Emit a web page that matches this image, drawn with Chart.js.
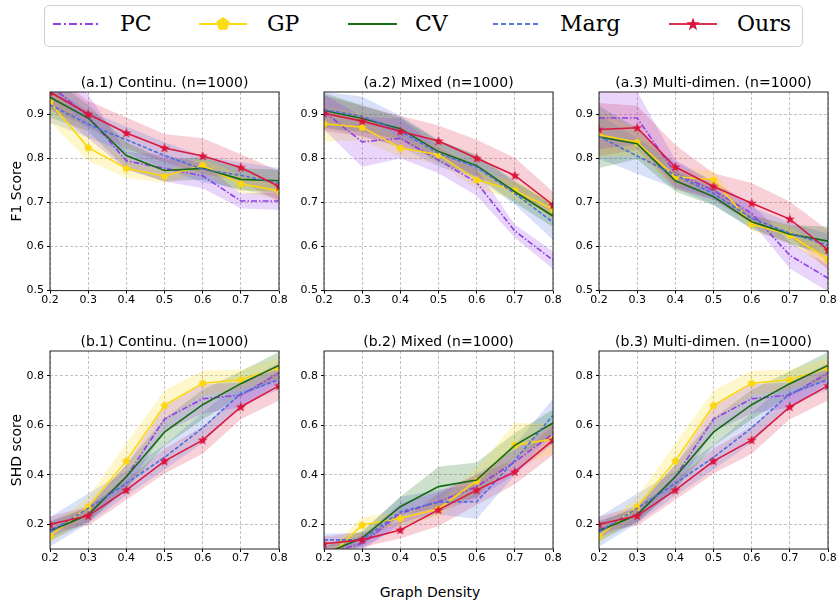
<!DOCTYPE html>
<html><head><meta charset="utf-8">
<script src="https://cdn.jsdelivr.net/npm/chart.js@4.4.0/dist/chart.umd.min.js"></script>
<style>
html,body{margin:0;padding:0;background:#fff;}
body{width:837px;height:603px;position:relative;overflow:hidden;font-family:"DejaVu Sans";}
canvas{position:absolute;}
.lg{position:absolute;font-family:"DejaVu Serif";font-size:22px;line-height:22px;color:#000;top:13px;white-space:nowrap;}
.sw{position:absolute;top:16px;}
</style></head><body>
<div style="position:absolute;left:44px;top:5px;width:757px;height:40px;border:1px solid #d0d0d0;border-radius:5px;"></div>
<svg class="sw" style="left:53px" width="48" height="16"><line x1="0" y1="8" x2="47" y2="8" stroke="#9440ea" stroke-width="2" stroke-dasharray="8,3,2,3"/></svg>
<div class="lg" style="left:120px">PC</div>
<svg class="sw" style="left:199px" width="48" height="16"><line x1="0" y1="8" x2="48" y2="8" stroke="#fcdc14" stroke-width="2"/><polygon points="24,1 30.7,5.8 28.1,13.7 19.9,13.7 17.3,5.8" fill="#fcdc14"/></svg>
<div class="lg" style="left:267px">GP</div>
<svg class="sw" style="left:348px" width="49" height="16"><line x1="0" y1="8" x2="49" y2="8" stroke="#1a6e1a" stroke-width="2"/></svg>
<div class="lg" style="left:415px">CV</div>
<svg class="sw" style="left:493px" width="48" height="16"><line x1="0" y1="8" x2="47" y2="8" stroke="#5577e0" stroke-width="2" stroke-dasharray="5,3"/></svg>
<div class="lg" style="left:560px">Marg</div>
<svg class="sw" style="left:669px" width="48" height="16"><line x1="0" y1="8" x2="48" y2="8" stroke="#e0304f" stroke-width="2"/><polygon id="lgStar" fill="#dc143c"/></svg>
<div class="lg" style="left:737px">Ours</div>
<div style="position:absolute;left:330px;width:200px;text-align:center;top:584px;font-size:14px;line-height:16px;color:#000;">Graph Density</div>

<canvas id="a1" width="293" height="237" style="left:0px;top:74px"></canvas>
<canvas id="a2" width="283" height="237" style="left:284px;top:74px"></canvas>
<canvas id="a3" width="283" height="237" style="left:559px;top:74px"></canvas>
<canvas id="b1" width="293" height="236" style="left:0px;top:333px"></canvas>
<canvas id="b2" width="283" height="236" style="left:284px;top:333px"></canvas>
<canvas id="b3" width="283" height="236" style="left:559px;top:333px"></canvas>
<script>
// ---------------- data ----------------
const density = [0.2, 0.3, 0.4, 0.5, 0.6, 0.7, 0.8];
const xTicks = [0.2, 0.3, 0.4, 0.5, 0.6, 0.7, 0.8];
const f1Ticks = [0.5, 0.6, 0.7, 0.8, 0.9];
const shdTicks = [0.2, 0.4, 0.6, 0.8];
const methods = ['PC', 'GP', 'CV', 'Marg', 'Ours'];

// (a.1) F1, continuous
const a1_PC   = [0.965, 0.895, 0.794, 0.777, 0.760, 0.703, 0.703];
const a1_GP   = [0.927, 0.824, 0.777, 0.759, 0.784, 0.742, 0.726];
const a1_CV   = [0.938, 0.891, 0.806, 0.772, 0.777, 0.752, 0.749];
const a1_Marg = [0.921, 0.877, 0.842, 0.806, 0.775, 0.761, 0.743];
const a1_Ours = [0.950, 0.900, 0.857, 0.823, 0.805, 0.779, 0.736];
const a1_PC_sd   = [0.05, 0.05, 0.02, 0.03, 0.028, 0.017, 0.02];
const a1_GP_sd   = [0.045, 0.03, 0.022, 0.015, 0.015, 0.02, 0.02];
const a1_CV_sd   = [0.045, 0.03, 0.03, 0.025, 0.025, 0.025, 0.025];
const a1_Marg_sd = [0.04, 0.03, 0.03, 0.03, 0.03, 0.03, 0.035];
const a1_Ours_sd = [0.04, 0.03, 0.035, 0.032, 0.04, 0.03, 0.035];

// (a.2) F1, mixed
const a2_PC   = [0.905, 0.837, 0.845, 0.796, 0.745, 0.635, 0.569];
const a2_GP   = [0.878, 0.870, 0.823, 0.808, 0.751, 0.727, 0.684];
const a2_CV   = [0.908, 0.890, 0.867, 0.815, 0.783, 0.724, 0.669];
const a2_Marg = [0.910, 0.895, 0.861, 0.811, 0.780, 0.720, 0.655];
const a2_Ours = [0.902, 0.884, 0.861, 0.839, 0.800, 0.761, 0.694];
const a2_PC_sd   = [0.04, 0.057, 0.045, 0.03, 0.03, 0.015, 0.02];
const a2_GP_sd   = [0.04, 0.03, 0.02, 0.02, 0.02, 0.02, 0.02];
const a2_CV_sd   = [0.04, 0.03, 0.025, 0.025, 0.025, 0.025, 0.025];
const a2_Marg_sd = [0.04, 0.045, 0.035, 0.03, 0.025, 0.025, 0.04];
const a2_Ours_sd = [0.04, 0.035, 0.035, 0.035, 0.042, 0.04, 0.03];

// (a.3) F1, multi-dimensional
const a3_PC   = [0.891, 0.891, 0.766, 0.727, 0.675, 0.580, 0.528];
const a3_GP   = [0.853, 0.836, 0.758, 0.751, 0.651, 0.626, 0.571];
const a3_CV   = [0.848, 0.833, 0.749, 0.713, 0.656, 0.628, 0.612];
const a3_Marg = [0.849, 0.805, 0.762, 0.720, 0.664, 0.630, 0.603];
const a3_Ours = [0.865, 0.869, 0.780, 0.736, 0.698, 0.662, 0.592];
const a3_PC_sd   = [0.07, 0.06, 0.03, 0.02, 0.02, 0.03, 0.03];
const a3_GP_sd   = [0.05, 0.03, 0.02, 0.02, 0.015, 0.02, 0.02];
const a3_CV_sd   = [0.07, 0.035, 0.025, 0.02, 0.015, 0.02, 0.033];
const a3_Marg_sd = [0.05, 0.04, 0.03, 0.025, 0.025, 0.025, 0.025];
const a3_Ours_sd = [0.06, 0.05, 0.05, 0.03, 0.046, 0.04, 0.045];

// (b.1) SHD, continuous
const b1_PC   = [0.177, 0.240, 0.392, 0.625, 0.707, 0.722, 0.811];
const b1_GP   = [0.153, 0.271, 0.456, 0.680, 0.770, 0.784, 0.832];
const b1_CV   = [0.173, 0.238, 0.392, 0.572, 0.683, 0.768, 0.842];
const b1_Marg = [0.169, 0.264, 0.365, 0.470, 0.589, 0.728, 0.784];
const b1_Ours = [0.200, 0.234, 0.338, 0.455, 0.540, 0.674, 0.760];
const b1_PC_sd   = [0.03, 0.03, 0.05, 0.05, 0.06, 0.05, 0.04];
const b1_GP_sd   = [0.03, 0.04, 0.07, 0.06, 0.05, 0.04, 0.04];
const b1_CV_sd   = [0.04, 0.03, 0.05, 0.055, 0.06, 0.05, 0.055];
const b1_Marg_sd = [0.06, 0.06, 0.05, 0.05, 0.06, 0.05, 0.04];
const b1_Ours_sd = [0.03, 0.04, 0.04, 0.05, 0.055, 0.05, 0.06];

// (b.2) SHD, mixed
const b2_PC   = [0.080, 0.123, 0.244, 0.291, 0.352, 0.452, 0.566];
const b2_GP   = [0.050, 0.197, 0.224, 0.262, 0.376, 0.520, 0.544];
const b2_CV   = [0.080, 0.144, 0.271, 0.352, 0.379, 0.519, 0.609];
const b2_Marg = [0.137, 0.137, 0.251, 0.289, 0.291, 0.459, 0.640];
const b2_Ours = [0.121, 0.137, 0.177, 0.258, 0.338, 0.412, 0.540];
const b2_PC_sd   = [0.03, 0.03, 0.04, 0.04, 0.05, 0.05, 0.04];
const b2_GP_sd   = [0.03, 0.03, 0.03, 0.03, 0.05, 0.09, 0.06];
const b2_CV_sd   = [0.03, 0.03, 0.04, 0.08, 0.07, 0.05, 0.055];
const b2_Marg_sd = [0.025, 0.03, 0.06, 0.05, 0.07, 0.06, 0.067];
const b2_Ours_sd = [0.03, 0.03, 0.035, 0.065, 0.06, 0.05, 0.06];

// (b.3) SHD, multi-dimensional
const b3_PC   = [0.177, 0.240, 0.392, 0.625, 0.707, 0.722, 0.811];
const b3_GP   = [0.153, 0.271, 0.456, 0.680, 0.770, 0.784, 0.832];
const b3_CV   = [0.173, 0.238, 0.392, 0.572, 0.683, 0.768, 0.842];
const b3_Marg = [0.169, 0.264, 0.365, 0.470, 0.589, 0.728, 0.784];
const b3_Ours = [0.200, 0.234, 0.338, 0.455, 0.540, 0.674, 0.760];
const b3_PC_sd   = [0.03, 0.03, 0.05, 0.05, 0.06, 0.05, 0.04];
const b3_GP_sd   = [0.03, 0.04, 0.07, 0.06, 0.05, 0.04, 0.04];
const b3_CV_sd   = [0.04, 0.03, 0.05, 0.055, 0.06, 0.05, 0.055];
const b3_Marg_sd = [0.06, 0.06, 0.05, 0.05, 0.06, 0.05, 0.04];
const b3_Ours_sd = [0.03, 0.04, 0.04, 0.05, 0.055, 0.05, 0.06];

// ---------------- styles ----------------
const lineColor = {PC:'#8f3ee8', GP:'#fcd610', CV:'#156c15', Marg:'#4a6fe0', Ours:'#dc173f'};
const bandColor = {PC:'rgba(138,43,226,0.2)', GP:'rgba(255,215,0,0.2)', CV:'rgba(0,100,0,0.2)', Marg:'rgba(65,105,225,0.2)', Ours:'rgba(220,20,60,0.2)'};
const dashes = {PC:[6,2,1.5,2], GP:[], CV:[], Marg:[4,2], Ours:[]};
const lineOrder = {PC:5, GP:4, CV:3, Marg:2, Ours:1};

function starPoints(cx, cy, ro, ri) {
  const pts = [];
  for (let i = 0; i < 10; i++) {
    const r = i % 2 === 0 ? ro : ri;
    const a = -Math.PI / 2 + i * Math.PI / 5;
    pts.push([cx + r * Math.cos(a), cy + r * Math.sin(a)]);
  }
  return pts;
}
function polyPoints(cx, cy, r, n) {
  const pts = [];
  for (let i = 0; i < n; i++) {
    const a = -Math.PI / 2 + i * 2 * Math.PI / n;
    pts.push([cx + r * Math.cos(a), cy + r * Math.sin(a)]);
  }
  return pts;
}
function markerCanvas(size, pts, color) {
  const c = document.createElement('canvas');
  c.width = size; c.height = size;
  const g = c.getContext('2d');
  g.fillStyle = color;
  g.beginPath();
  pts.forEach((p, i) => i ? g.lineTo(p[0], p[1]) : g.moveTo(p[0], p[1]));
  g.closePath(); g.fill();
  return c;
}
const starImg = markerCanvas(12, starPoints(6, 6.3, 5.2, 2.1), '#dc143c');
const pentImg = markerCanvas(10, polyPoints(5, 5.3, 4, 5), '#fcd610');
document.getElementById('lgStar').setAttribute('points',
  starPoints(24, 8.5, 7, 2.8).map(p => p[0].toFixed(2) + ',' + p[1].toFixed(2)).join(' '));
const markers = {GP: pentImg, Ours: starImg};

function pts(arr) { return density.map((x, i) => ({x: x, y: arr[i]})); }
function band(mean, sd, sign) { return density.map((x, i) => ({x: x, y: mean[i] + sign * sd[i]})); }

function buildDatasets(means, sds) {
  const ds = [];
  methods.forEach((m, k) => {
    ds.push({data: band(means[k], sds[k], 1), borderColor:'rgba(0,0,0,0)', borderWidth:0, pointRadius:0, fill:false, order:10, clip:0});
    ds.push({data: band(means[k], sds[k], -1), borderColor:'rgba(0,0,0,0)', borderWidth:0, pointRadius:0, fill:'-1', backgroundColor: bandColor[m], order:10, clip:0});
  });
  methods.forEach((m, k) => {
    ds.push({
      label: m, data: pts(means[k]), borderColor: lineColor[m], borderWidth: 1.6,
      borderDash: dashes[m], fill:false, tension:0, order: lineOrder[m], clip:0,
      pointRadius: markers[m] ? 4 : 0, pointStyle: markers[m] || 'circle',
      pointBackgroundColor: lineColor[m], pointBorderWidth: 0
    });
  });
  return ds;
}

const panels = [
  {id:'a1', title:'(a.1) Continu. (n=1000)', yTitle:'F1 Score', means:[a1_PC,a1_GP,a1_CV,a1_Marg,a1_Ours], sds:[a1_PC_sd,a1_GP_sd,a1_CV_sd,a1_Marg_sd,a1_Ours_sd], yMin:0.5, yMax:0.95, yTicks:f1Ticks, yw:50, xh:20.4},
  {id:'a2', title:'(a.2) Mixed (n=1000)', yTitle:'', means:[a2_PC,a2_GP,a2_CV,a2_Marg,a2_Ours], sds:[a2_PC_sd,a2_GP_sd,a2_CV_sd,a2_Marg_sd,a2_Ours_sd], yMin:0.5, yMax:0.95, yTicks:f1Ticks, yw:40, xh:20.4},
  {id:'a3', title:'(a.3) Multi-dimen. (n=1000)', yTitle:'', means:[a3_PC,a3_GP,a3_CV,a3_Marg,a3_Ours], sds:[a3_PC_sd,a3_GP_sd,a3_CV_sd,a3_Marg_sd,a3_Ours_sd], yMin:0.5, yMax:0.95, yTicks:f1Ticks, yw:40, xh:20.4},
  {id:'b1', title:'(b.1) Continu. (n=1000)', yTitle:'SHD score', means:[b1_PC,b1_GP,b1_CV,b1_Marg,b1_Ours], sds:[b1_PC_sd,b1_GP_sd,b1_CV_sd,b1_Marg_sd,b1_Ours_sd], yMin:0.1, yMax:0.9, yTicks:shdTicks, yw:50, xh:20},
  {id:'b2', title:'(b.2) Mixed (n=1000)', yTitle:'', means:[b2_PC,b2_GP,b2_CV,b2_Marg,b2_Ours], sds:[b2_PC_sd,b2_GP_sd,b2_CV_sd,b2_Marg_sd,b2_Ours_sd], yMin:0.1, yMax:0.9, yTicks:shdTicks, yw:40, xh:20},
  {id:'b3', title:'(b.3) Multi-dimen. (n=1000)', yTitle:'', means:[b3_PC,b3_GP,b3_CV,b3_Marg,b3_Ours], sds:[b3_PC_sd,b3_GP_sd,b3_CV_sd,b3_Marg_sd,b3_Ours_sd], yMin:0.1, yMax:0.9, yTicks:shdTicks, yw:40, xh:20}
];

const tickFont = {family:'DejaVu Sans', size:11, lineHeight:1};

panels.forEach(p => {
  const deco = {
    id: 'deco_' + p.id,
    afterDatasetsDraw(chart) {
      const {ctx, chartArea: a} = chart;
      ctx.save();
      ctx.strokeStyle = '#222'; ctx.lineWidth = 1; ctx.setLineDash([]);
      ctx.strokeRect(a.left, a.top, a.right - a.left, a.bottom - a.top);
      ctx.fillStyle = '#000';
      ctx.font = '14px "DejaVu Sans"';
      ctx.textAlign = 'center'; ctx.textBaseline = 'middle';
      ctx.fillText(p.title, (a.left + a.right) / 2, a.top - 9);
      if (p.yTitle) {
        ctx.translate(17.5, (a.top + a.bottom) / 2);
        ctx.rotate(-Math.PI / 2);
        ctx.fillText(p.yTitle, 0, 0);
      }
      ctx.restore();
    }
  };
  new Chart(document.getElementById(p.id), {
    type: 'line',
    data: {datasets: buildDatasets(p.means, p.sds)},
    options: {
      responsive: false, animation: false, events: [],
      layout: {padding: {top: 18, right: 14, left: 0, bottom: 0}},
      plugins: {legend: {display: false}, tooltip: {enabled: false}, filler: {drawTime: 'beforeDatasetsDraw'}},
      scales: {
        x: {
          type: 'linear', min: 0.2, max: 0.8,
          afterBuildTicks: s => { s.ticks = xTicks.map(v => ({value: v})); },
          afterFit: s => { s.height = p.xh; },
          ticks: {font: tickFont, color: '#000', padding: 1, maxRotation: 0, autoSkip: false, callback: v => v.toFixed(1)},
          grid: {color: '#b3b3b3', lineWidth: 0.8, tickColor: '#000', tickLength: 3, tickWidth: 1, tickBorderDash: []},
          border: {display: false, dash: [3, 2]}
        },
        y: {
          type: 'linear', min: p.yMin, max: p.yMax,
          afterBuildTicks: s => { s.ticks = p.yTicks.map(v => ({value: v})); },
          afterFit: s => { s.width = p.yw; },
          ticks: {font: tickFont, color: '#000', padding: 3, autoSkip: false, callback: v => v.toFixed(1)},
          grid: {color: '#b3b3b3', lineWidth: 0.8, tickColor: '#000', tickLength: 3, tickWidth: 1, tickBorderDash: []},
          border: {display: false, dash: [3, 2]}
        }
      }
    },
    plugins: [deco]
  });
});
</script>
</body></html>
